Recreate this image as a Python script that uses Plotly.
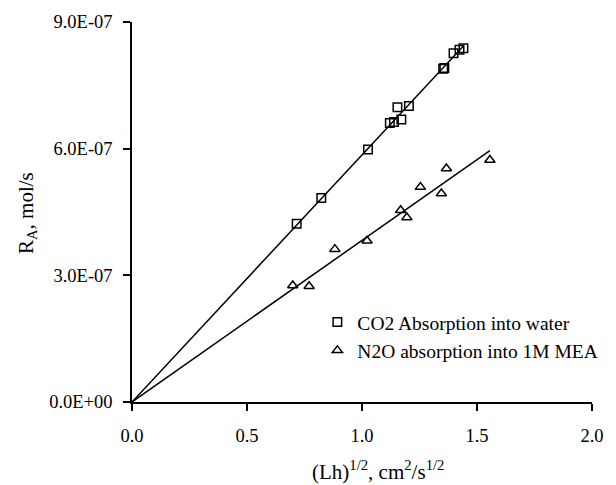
import numpy as np
import plotly.graph_objects as go

# CO2 absorption into water
co2_x = [0.716, 0.823, 1.026, 1.121, 1.139, 1.154, 1.171, 1.204, 1.353, 1.358, 1.398, 1.424, 1.441]
co2_y = [4.22e-7, 4.83e-7, 5.98e-7, 6.61e-7, 6.63e-7, 6.98e-7, 6.69e-7, 7.01e-7, 7.89e-7, 7.91e-7, 8.26e-7, 8.34e-7, 8.38e-7]

# N2O absorption into 1M MEA
n2o_x = [0.699, 0.770, 0.882, 1.022, 1.168, 1.195, 1.254, 1.345, 1.367, 1.556]
n2o_y = [2.76e-7, 2.74e-7, 3.62e-7, 3.82e-7, 4.54e-7, 4.37e-7, 5.09e-7, 4.94e-7, 5.53e-7, 5.73e-7]

y_tickvals = [0, 3e-7, 6e-7, 9e-7]
y_ticktext = ["0.0E+00", "3.0E-07", "6.0E-07", "9.0E-07"]
x_tickvals = [0.0, 0.5, 1.0, 1.5, 2.0]

def origin_fit(x, y):
    x = np.asarray(x); y = np.asarray(y)
    k = (x * y).sum() / (x * x).sum()
    xs = np.array([0.0, x.max()])
    return xs, k * xs

FAM = "Liberation Serif, Times New Roman, serif"
tick_font = dict(family=FAM, size=18.5, color="black")
leg_font = dict(family=FAM, size=19.5, color="black")
title_font = dict(family=FAM, size=21, color="black")

fig = go.Figure()
lx, ly = origin_fit(co2_x, co2_y)
fig.add_trace(go.Scatter(x=lx, y=ly, mode="lines", line=dict(color="black", width=1.5),
                         showlegend=False, hoverinfo="skip"))
lx, ly = origin_fit(n2o_x, n2o_y)
fig.add_trace(go.Scatter(x=lx, y=ly, mode="lines", line=dict(color="black", width=1.5),
                         showlegend=False, hoverinfo="skip"))
fig.add_trace(go.Scatter(x=co2_x, y=co2_y, mode="markers", name="CO2 Absorption into water",
                         marker=dict(symbol="square-open", size=8.5, color="black",
                                     line=dict(width=1.5, color="black"))))
fig.add_trace(go.Scatter(x=n2o_x, y=n2o_y, mode="markers", name="N2O absorption into 1M MEA",
                         marker=dict(symbol="triangle-up-open", size=9, color="black",
                                     line=dict(width=1.5, color="black"))))

fig.update_layout(
    width=616, height=485,
    margin=dict(l=132, r=15, t=20, b=83),
    paper_bgcolor="white", plot_bgcolor="white",
    font=tick_font,
    showlegend=True,
    legend=dict(x=(321 - 132) / 469, y=(402 - 336) / 382, xanchor="left", yanchor="middle",
                bgcolor="rgba(0,0,0,0)", font=leg_font, itemsizing="trace",
                tracegroupgap=0),
    xaxis=dict(range=[0, 2], tickvals=x_tickvals, tickformat=".1f",
               showline=True, linecolor="black", linewidth=1.5,
               ticks="outside", ticklen=7, tickwidth=1.5, tickcolor="black",
               showgrid=False, zeroline=False, ticklabelstandoff=9, tickfont=tick_font),
    yaxis=dict(range=[0, 9e-7], tickvals=y_tickvals, ticktext=y_ticktext,
               showline=True, linecolor="black", linewidth=1.5,
               ticks="outside", ticklen=7, tickwidth=1.5, tickcolor="black",
               showgrid=False, zeroline=False, ticklabelstandoff=7, tickfont=tick_font),
    annotations=[
        dict(text="(Lh)<sup>1/2</sup>, cm<sup>2</sup>/s<sup>1/2</sup>", xref="paper", yref="paper",
             x=(383 - 132) / 469, y=-(471 - 402) / 382, xanchor="center", yanchor="middle",
             showarrow=False, font=title_font),
        dict(text="R<sub>A</sub>, mol/s", xref="paper", yref="paper",
             x=-(132 - 25) / 469, y=(402 - 212) / 382, xanchor="center", yanchor="middle",
             textangle=-90, showarrow=False, font=title_font),
    ],
)

fig.write_html("out.html")
